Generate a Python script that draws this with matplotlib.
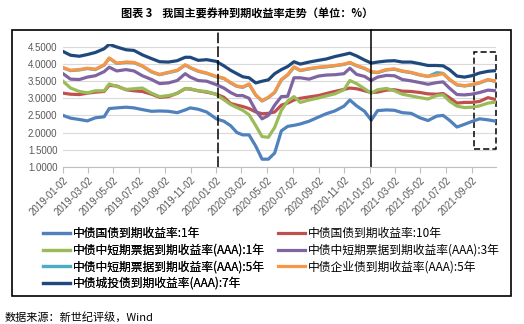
import matplotlib.pyplot as plt
from matplotlib.patches import Rectangle
import pandas as pd

plt.rcParams['font.family'] = ['Noto Sans CJK SC', 'DejaVu Sans']

# sampled closing yields (%)
dates = pd.to_datetime([
    '2019-01-02', '2019-01-20', '2019-02-10', '2019-03-01', '2019-03-20', '2019-04-10',
    '2019-04-22', '2019-05-10', '2019-06-01', '2019-06-20', '2019-07-10', '2019-08-01',
    '2019-08-20', '2019-09-10', '2019-10-01', '2019-10-20', '2019-11-01', '2019-11-20',
    '2019-12-10', '2020-01-02', '2020-01-20', '2020-02-05', '2020-02-20', '2020-03-05',
    '2020-03-20', '2020-04-05', '2020-04-20', '2020-05-05', '2020-05-20', '2020-06-05',
    '2020-06-20', '2020-07-05', '2020-07-20', '2020-08-10', '2020-09-01', '2020-09-20',
    '2020-10-10', '2020-11-01', '2020-11-15', '2020-12-01', '2020-12-20', '2021-01-05',
    '2021-01-20', '2021-02-10', '2021-03-01', '2021-03-20', '2021-04-10', '2021-05-01',
    '2021-05-20', '2021-06-10', '2021-06-25', '2021-07-10', '2021-07-28', '2021-08-15',
    '2021-09-01', '2021-09-20', '2021-10-10', '2021-10-29'])

gov_1y = [2.50, 2.42, 2.38, 2.34, 2.43, 2.46, 2.70, 2.72, 2.74, 2.72, 2.67, 2.62,
          2.63, 2.62, 2.58, 2.66, 2.72, 2.68, 2.60, 2.40, 2.33, 2.20, 2.00, 1.93,
          1.93, 1.60, 1.22, 1.22, 1.40, 2.05, 2.18, 2.21, 2.25, 2.33, 2.45, 2.55,
          2.63, 2.77, 2.95, 2.78, 2.62, 2.36, 2.64, 2.66, 2.65, 2.58, 2.56, 2.43,
          2.35, 2.48, 2.50, 2.36, 2.16, 2.24, 2.32, 2.40, 2.37, 2.33]
gov_10y = [3.15, 3.12, 3.11, 3.15, 3.18, 3.20, 3.38, 3.36, 3.25, 3.22, 3.20, 3.12,
           3.03, 3.05, 3.15, 3.28, 3.27, 3.22, 3.18, 3.12, 3.03, 2.85, 2.80, 2.76,
           2.70, 2.60, 2.55, 2.56, 2.60, 2.80, 2.86, 2.95, 3.00, 3.04, 3.08, 3.14,
           3.20, 3.26, 3.30, 3.28, 3.22, 3.17, 3.18, 3.24, 3.25, 3.21, 3.20, 3.17,
           3.13, 3.12, 3.14, 3.02, 2.86, 2.88, 2.88, 2.91, 3.02, 2.96]
cp_1y = [3.50, 3.30, 3.20, 3.16, 3.22, 3.22, 3.42, 3.35, 3.26, 3.28, 3.30, 3.15,
         3.05, 3.08, 3.14, 3.29, 3.28, 3.22, 3.20, 3.11, 2.96, 2.82, 2.73, 2.65,
         2.52, 2.20, 1.88, 1.86, 2.15, 2.65, 2.92, 3.05, 2.88, 2.95, 3.01, 3.07,
         3.13, 3.25, 3.52, 3.43, 3.28, 3.15, 3.25, 3.29, 3.22, 3.12, 3.07, 3.02,
         2.98, 3.08, 3.10, 2.92, 2.77, 2.73, 2.74, 2.78, 2.86, 2.89]
mtn_3y = [3.72, 3.56, 3.55, 3.62, 3.66, 3.78, 3.91, 3.80, 3.84, 3.80, 3.66, 3.55,
          3.43, 3.45, 3.52, 3.72, 3.62, 3.52, 3.50, 3.40, 3.30, 3.17, 3.08, 3.08,
          3.00, 2.64, 2.40, 2.50, 2.80, 3.05, 3.06, 3.60, 3.60, 3.56, 3.65, 3.68,
          3.69, 3.72, 3.88, 3.70, 3.64, 3.52, 3.62, 3.67, 3.66, 3.55, 3.51, 3.46,
          3.41, 3.46, 3.48, 3.30, 3.11, 3.10, 3.12, 3.17, 3.24, 3.22]
mtn_5y = [3.89, 3.81, 3.83, 3.87, 3.84, 3.97, 4.17, 4.02, 4.05, 4.04, 3.94, 3.77,
          3.69, 3.75, 3.81, 3.97, 3.89, 3.79, 3.73, 3.63, 3.58, 3.45, 3.35, 3.32,
          3.41, 3.09, 2.92, 3.02, 3.17, 3.54, 3.68, 3.91, 3.81, 3.86, 3.90, 3.92,
          3.95, 3.99, 4.04, 3.95, 3.87, 3.77, 3.75, 3.83, 3.85, 3.79, 3.75, 3.68,
          3.64, 3.75, 3.73, 3.55, 3.39, 3.36, 3.39, 3.45, 3.54, 3.49]
corp_5y = [3.90, 3.82, 3.84, 3.88, 3.85, 3.98, 4.18, 4.03, 4.06, 4.05, 3.95, 3.78,
           3.70, 3.76, 3.82, 3.98, 3.90, 3.80, 3.74, 3.64, 3.59, 3.46, 3.36, 3.33,
           3.42, 3.10, 2.93, 3.03, 3.18, 3.55, 3.69, 3.92, 3.82, 3.87, 3.91, 3.93,
           3.96, 4.00, 4.05, 3.96, 3.88, 3.78, 3.76, 3.84, 3.86, 3.80, 3.76, 3.69,
           3.64, 3.68, 3.72, 3.56, 3.40, 3.37, 3.40, 3.46, 3.55, 3.50]
cib_7y = [4.37, 4.26, 4.23, 4.28, 4.34, 4.45, 4.58, 4.50, 4.42, 4.40, 4.27, 4.16,
          4.07, 4.06, 4.10, 4.20, 4.20, 4.11, 4.13, 4.08, 3.95, 3.82, 3.72, 3.63,
          3.60, 3.45, 3.50, 3.54, 3.72, 3.84, 3.93, 4.07, 4.00, 4.06, 4.11, 4.15,
          4.22, 4.28, 4.32, 4.24, 4.12, 4.03, 4.06, 4.09, 4.10, 4.06, 4.06, 4.01,
          3.96, 3.96, 3.95, 3.84, 3.65, 3.62, 3.66, 3.74, 3.79, 3.81]

series = [
    ('中债国债到期收益率:1年', gov_1y, '#4F81BD'),
    ('中债国债到期收益率:10年', gov_10y, '#C0504D'),
    ('中债中短期票据到期收益率(AAA):1年', cp_1y, '#9BBB59'),
    ('中债中短期票据到期收益率(AAA):3年', mtn_3y, '#8064A2'),
    ('中债中短期票据到期收益率(AAA):5年', mtn_5y, '#4BACC6'),
    ('中债企业债到期收益率(AAA):5年', corp_5y, '#F79646'),
    ('中债城投债到期收益率(AAA):7年', cib_7y, '#1F497D'),
]

tick_labels = ['2019-01-02', '2019-03-02', '2019-05-02', '2019-07-02', '2019-09-02',
               '2019-11-02', '2020-01-02', '2020-03-02', '2020-05-02', '2020-07-02',
               '2020-09-02', '2020-11-02', '2021-01-02', '2021-03-02', '2021-05-02',
               '2021-07-02', '2021-09-02']
y_ticks = [1.0, 1.5, 2.0, 2.5, 3.0, 3.5, 4.0, 4.5]
markers = pd.to_datetime(['2020-01-06', '2021-01-04'])
box_x = pd.to_datetime(['2021-09-06', '2021-10-29'])
box_y = [1.52, 4.35]

fig = plt.figure(figsize=(5.24, 3.24), dpi=100, facecolor='white')
ax = fig.add_axes([63 / 524, 1 - 166.7 / 324, 433 / 524, 123.1 / 324])

handles = []
for name, vals, col in series:
    h, = ax.plot(dates, vals, color=col, lw=2.3, label=name, solid_joinstyle='round')
    handles.append(h)

ax.set_xlim(dates[0], dates[-1])
ax.set_ylim(1.0, 4.6)
ax.set_yticks(y_ticks)
ax.set_yticklabels(['%.4f' % v for v in y_ticks], fontsize=7, color='#595959',
                   family='Liberation Sans')
ax.set_xticks(pd.to_datetime(tick_labels))
ax.set_xticklabels(tick_labels, rotation=45, ha='right', rotation_mode='anchor',
                   fontsize=7, color='#595959', family='Liberation Sans')
ax.grid(axis='y', color='#D9D9D9', lw=0.8)
ax.set_axisbelow(True)
for side in ['top', 'right', 'left']:
    ax.spines[side].set_visible(False)
ax.spines['bottom'].set_color('#BFBFBF')
ax.tick_params(axis='y', length=0, pad=4)
ax.tick_params(axis='x', length=4, color='#BFBFBF', pad=2)

# period separators and the latest-window box
ax.plot([markers[0]] * 2, [1.0, 5.0], color='black', lw=1.1, ls=(0, (7, 2)), clip_on=False)
ax.plot([markers[1]] * 2, [1.0, 5.0], color='black', lw=1.1, clip_on=False)
ax.add_patch(Rectangle((box_x[0], box_y[0]), box_x[1] - box_x[0], box_y[1] - box_y[0],
                       fill=False, ec='black', lw=1.1, ls=(0, (4, 2)), clip_on=False))

# two-column legend, laid out row by row
leg_kw = dict(loc='upper left', fontsize=8.5, frameon=False, handlelength=2.3,
              handletextpad=0.2, labelspacing=0.31, borderaxespad=0, borderpad=0)
left_col = [0, 2, 4, 6]
right_col = [1, 3, 5]
leg1 = fig.legend([handles[i] for i in left_col], [series[i][0] for i in left_col],
                  bbox_to_anchor=(43 / 524, 1 - 227 / 324), **leg_kw)
fig.legend([handles[i] for i in right_col], [series[i][0] for i in right_col],
           bbox_to_anchor=(278 / 524, 1 - 227 / 324), **leg_kw)
fig.add_artist(leg1)

fig.add_artist(Rectangle((12 / 524, 1 - 296 / 324), 499 / 524, 266 / 324,
                         transform=fig.transFigure, fill=False, ec='black', lw=1.2))

fig.text(247 / 524, 1 - 14 / 324, '图表 3    我国主要券种到期收益率走势（单位：%）',
         ha='center', va='center', fontsize=8, fontweight='bold')
fig.text(5 / 524, 1 - 317 / 324, '数据来源：新世纪评级，Wind', ha='left', va='center',
         fontsize=8)

fig.savefig('out.png', dpi=100)
